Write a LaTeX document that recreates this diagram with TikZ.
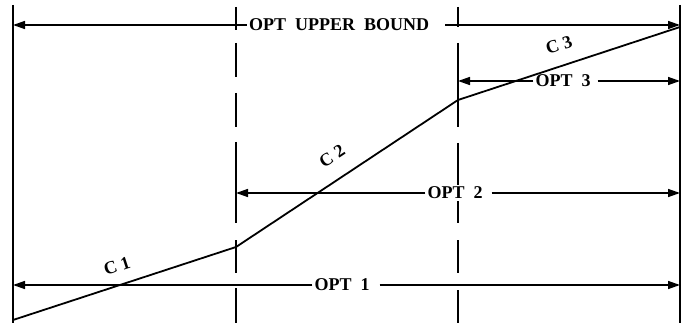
\documentclass[tikz,border=0pt]{standalone}
\usepackage{fontspec}
\setmainfont{Liberation Serif}
\usetikzlibrary{arrows.meta}
\begin{document}
\begin{tikzpicture}[x=1pt,y=-1pt,
  ln/.style={line width=1.8pt},
  arr/.style={line width=1.5pt,-{Triangle[length=12pt,width=8pt]}},
  lab/.style={font=\fontsize{18}{21}\selectfont\bfseries,inner sep=2pt},
  clab/.style={font=\fontsize{18}{21}\selectfont\bfseries,inner sep=0pt}]
\useasboundingbox (0,0) rectangle (690,323);
% solid boundary lines
\coordinate (LT) at (13,5); \coordinate (LB) at (13,323);
\coordinate (RT) at (680,5); \coordinate (RB) at (680,323);
\draw[ln] (LT) -- (LB);
\draw[ln] (RT) -- (RB);
% dashed lines drawn as segments
\foreach \a/\b in {7/30,43/77,93/127,142/223,240/273,288/323}
  \draw[ln] (236,\a) -- (236,\b);
\foreach \a/\b in {7/27,43/127,143/223,240/273,290/323}
  \draw[ln] (458,\a) -- (458,\b);
% cost curve
\coordinate (P0) at (13,320);
\coordinate (P1) at (236,247);
\coordinate (P2) at (458,100);
\coordinate (P3) at (680,27);
\draw[ln] (P0) -- (P1) -- (P2) -- (P3);
\node[clab,rotate=18] (c1) at (117,266) {C~1};
\node[clab,rotate=33.5] (c2) at (332,156) {C~2};
\node[clab,rotate=18] (c3) at (559,45) {C~3};
% OPT UPPER BOUND
\coordinate (ubL) at (13,25); \coordinate (ubR) at (680,25);
\node[lab] (ub) at (339,25) {OPT~~UPPER~~BOUND};
\draw[arr] (ub.west) -- (ubL);
\draw[arr] ([xshift=14pt]ub.east) -- (ubR);
% OPT 3
\coordinate (o3L) at (458,81); \coordinate (o3R) at (680,81);
\node[lab] (o3) at (563,81) {OPT~~3};
\draw[arr] (o3.west) -- (o3L);
\draw[arr] ([xshift=5pt]o3.east) -- (o3R);
% OPT 2
\coordinate (o2L) at (236,193); \coordinate (o2R) at (680,193);
\node[lab,fill=white] (o2) at (455,193) {OPT~~2};
\draw[arr] (o2.west) -- (o2L);
\draw[arr] ([xshift=7pt]o2.east) -- (o2R);
% OPT 1
\coordinate (o1L) at (13,285); \coordinate (o1R) at (680,285);
\node[lab] (o1) at (342,285) {OPT~~1};
\draw[arr] (o1.west) -- (o1L);
\draw[arr] ([xshift=8pt]o1.east) -- (o1R);
\end{tikzpicture}
\end{document}
